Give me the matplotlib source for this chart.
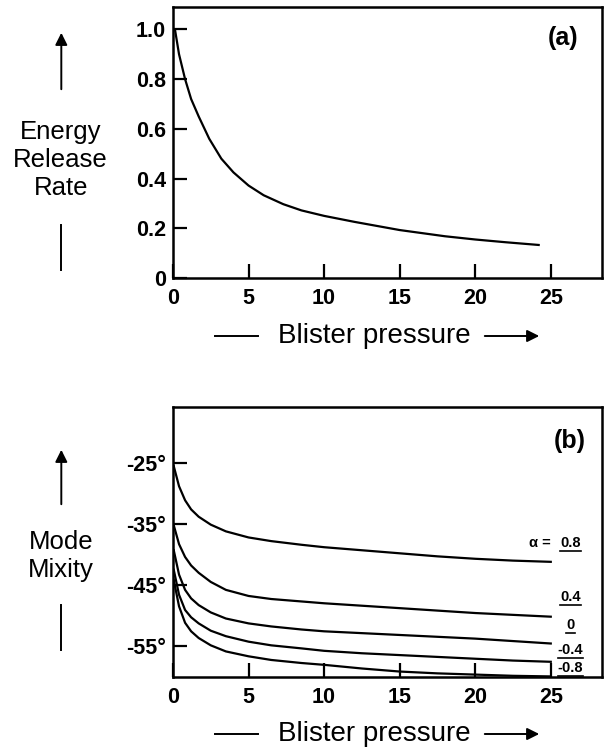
import numpy as np
import matplotlib.pyplot as plt
from matplotlib.patches import FancyArrowPatch

# (a) energy release rate vs blister pressure
p_a = [0.13, 0.4, 0.8, 1.2, 1.7, 2.4, 3.2, 4, 5, 6, 7.3, 8.5, 10, 12, 15, 18, 20, 22, 24.2]
G_a = [1.0, 0.90, 0.80, 0.72, 0.65, 0.56, 0.48, 0.425, 0.372, 0.333, 0.297, 0.272, 0.25, 0.226, 0.193, 0.168, 0.155, 0.144, 0.133]

# (b) mode mixity (deg) vs blister pressure, one curve per alpha
p_b = [0.05, 0.4, 0.8, 1.2, 1.7, 2.5, 3.5, 5, 6.5, 8.5, 10, 12.5, 15, 17.5, 20, 22.5, 25]
psi_08 = [-25.5, -28.8, -31.1, -32.6, -33.8, -35.1, -36.2, -37.2, -37.8, -38.4, -38.8, -39.3, -39.8, -40.3, -40.7, -41.0, -41.2]
psi_04 = [-35.2, -38.3, -40.4, -41.8, -43.0, -44.5, -45.8, -46.8, -47.3, -47.7, -48.0, -48.4, -48.8, -49.2, -49.6, -49.9, -50.2]
psi_0 = [-39.3, -43.3, -45.8, -47.2, -48.3, -49.5, -50.5, -51.3, -51.8, -52.3, -52.6, -52.9, -53.2, -53.5, -53.8, -54.2, -54.6]
psi_m04 = [-42.5, -46.6, -49.1, -50.3, -51.3, -52.5, -53.4, -54.3, -54.9, -55.4, -55.8, -56.2, -56.5, -56.8, -57.1, -57.4, -57.6]
psi_m08 = [-44.2, -48.5, -51.2, -52.6, -53.7, -54.9, -55.9, -56.7, -57.3, -57.8, -58.1, -58.7, -59.2, -59.5, -59.7, -59.9, -60.0]
alpha_values = ['0.8', '0.4', '0', '-0.4', '-0.8']
label_y = [-38.1, -47.0, -51.6, -55.7, -58.6]

plt.rcParams['font.family'] = ['Liberation Sans', 'DejaVu Sans']

fig = plt.figure(figsize=(6.07, 7.5), dpi=100)
ax1 = fig.add_axes([0.285, 0.6293, 0.707, 0.3613])
ax2 = fig.add_axes([0.285, 0.0973, 0.707, 0.36])

for ax in (ax1, ax2):
	for s in ax.spines.values():
		s.set_linewidth(1.8)
	ax.tick_params(direction='in', length=10, width=1.6, labelsize=15.5)
	ax.tick_params(axis='x', pad=7)
	ax.tick_params(axis='y', pad=5)
	ax.set_xlim(0, 28.4)
	ax.set_xticks([0, 5, 10, 15, 20, 25])

ax1.plot(p_a, G_a, color='black', lw=1.6)
ax1.set_ylim(0, 1.09)
ax1.set_yticks([0, 0.2, 0.4, 0.6, 0.8, 1.0])
ax1.set_yticklabels(['0', '0.2', '0.4', '0.6', '0.8', '1.0'], fontweight='bold')
ax1.set_xticklabels(['0', '5', '10', '15', '20', '25'], fontweight='bold')
ax1.text(0.91, 0.86, '(a)', transform=ax1.transAxes, fontsize=18, fontweight='bold', ha='center')

for psi in (psi_08, psi_04, psi_0, psi_m04, psi_m08):
	ax2.plot(p_b, psi, color='black', lw=1.6)
ax2.set_ylim(-60.1, -15.8)
ax2.set_yticks([-55, -45, -35, -25])
ax2.set_yticklabels(['-55°', '-45°', '-35°', '-25°'], fontweight='bold')
ax2.set_xticklabels(['0', '5', '10', '15', '20', '25'], fontweight='bold')
ax2.text(0.925, 0.85, '(b)', transform=ax2.transAxes, fontsize=18, fontweight='bold', ha='center')

# alpha labels, numbers underlined
alpha_texts = []
for v, y in zip(alpha_values, label_y):
	alpha_texts.append(ax2.text(26.3, y, v, fontsize=10.5, fontweight='bold', ha='center', va='center'))
ax2.text(24.3, label_y[0], 'α =', fontsize=10.5, fontweight='bold', ha='center', va='center')

# side labels with arrows
def side_label(text, y_text, y_arrow, y_line):
	fig.text(0.10, y_text, text, ha='center', va='center', fontsize=18.5, linespacing=1.2)
	fig.add_artist(plt.Line2D([0.101, 0.101], y_line, color='black', lw=1.4))
	fig.add_artist(FancyArrowPatch((0.101, y_arrow[0]), (0.101, y_arrow[1]), transform=fig.transFigure,
		arrowstyle='-|>', mutation_scale=18, color='black', lw=1.4))

side_label('Energy\nRelease\nRate', 1 - 160 / 750, (1 - 92 / 750, 1 - 30 / 750), (1 - 225 / 750, 1 - 270 / 750))
side_label('Mode\nMixity', 1 - 556 / 750, (1 - 507 / 750, 1 - 447 / 750), (1 - 605 / 750, 1 - 650 / 750))

# bottom labels with dash and arrow
def bottom_label(y):
	fig.text(374 / 607, y, 'Blister pressure', ha='center', va='center', fontsize=20)
	fig.add_artist(plt.Line2D([215 / 607, 258 / 607], [y, y], color='black', lw=1.4))
	fig.add_artist(FancyArrowPatch((482 / 607, y), (542 / 607, y), transform=fig.transFigure,
		arrowstyle='-|>', mutation_scale=18, color='black', lw=1.4))

bottom_label(1 - 336 / 750)
bottom_label(1 - 734 / 750)

# underline each alpha value using its rendered extent
fig.canvas.draw()
inv = fig.transFigure.inverted()
for t in alpha_texts:
	bb = t.get_window_extent().transformed(inv)
	fig.add_artist(plt.Line2D([bb.x0, bb.x1], [bb.y0 - 0.001, bb.y0 - 0.001], color='black', lw=1.2))

fig.savefig('out.png', dpi=100)
